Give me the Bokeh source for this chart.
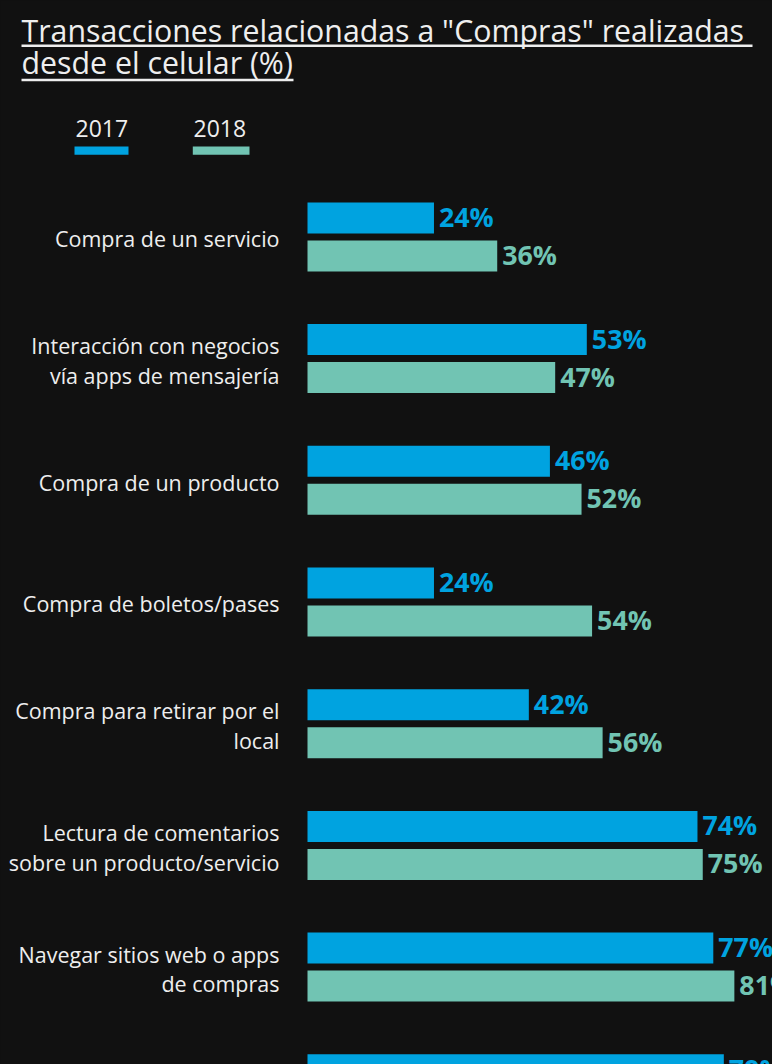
from bokeh.plotting import figure
from bokeh.models import Range1d, ColumnDataSource
from bokeh.core.properties import value
from bokeh.embed import file_html
from bokeh.resources import INLINE

# ---------------- data ----------------
title_lines = ['Transacciones relacionadas a "Compras" realizadas', 'desde el celular (%)']
years = ["2017", "2018"]
categories = [
    "Compra de un servicio",
    "Interacción con negocios\nvía apps de mensajería",
    "Compra de un producto",
    "Compra de boletos/pases",
    "Compra para retirar por el\nlocal",
    "Lectura de comentarios\nsobre un producto/servicio",
    "Navegar sitios web o apps\nde compras",
    "",  # last category: label cut off in the reference
]
values_2017 = [24, 53, 46, 24, 42, 74, 77, 79]
values_2018 = [36, 47, 52, 54, 56, 75, 81, 83]

# ---------------- style ----------------
BG = "#111111"
TXT = "#EEEEEE"
C2017 = "#00A3E0"
C2018 = "#71C4B3"
FONT = value("Open Sans")

W, H = 772, 1064
PX_PER_PCT = 5.27
BAR_X0 = 307.0          # px of value 0
PITCH = 121.7           # px between category centres
FIRST_CENTER = 236.4    # px of first category centre
BAR_H = 31.0
DODGE = 19.0
MID = 0.388             # (ascent - descent)/2 in em, Open Sans


def xpx(cx):
    return (cx - BAR_X0) / PX_PER_PCT


def ypx(cy):
    return (cy - FIRST_CENTER) / PITCH


p = figure(
    width=W, height=H, output_backend="svg", toolbar_location=None,
    x_range=Range1d(xpx(0), xpx(W)),
    y_range=Range1d(ypx(H), ypx(0)),
    min_border=0, background_fill_color=BG, border_fill_color=BG,
    outline_line_color=None, x_axis_location=None, y_axis_location=None,
)
p.grid.visible = False

idx = list(range(len(categories)))
VAL_FS = 26.8
LBL_OFF = 5 / PX_PER_PCT
VAL_UP = 1.5 / PITCH

# bars
src17 = ColumnDataSource(dict(
    y=[i - DODGE / PITCH for i in idx], v=values_2017,
    lbl=[f"{v}%" for v in values_2017],
    ty=[i - DODGE / PITCH - VAL_UP for i in idx],
    lx=[v + LBL_OFF for v in values_2017]))
src18 = ColumnDataSource(dict(
    y=[i + DODGE / PITCH for i in idx], v=values_2018,
    lbl=[f"{v}%" for v in values_2018],
    ty=[i + DODGE / PITCH - VAL_UP for i in idx],
    lx=[v + LBL_OFF for v in values_2018]))

for src, col in ((src17, C2017), (src18, C2018)):
    p.hbar(y="y", left=0, right="v", height=BAR_H / PITCH, source=src,
           fill_color=col, line_color=None)
    p.text(x="lx", y="ty", text="lbl", source=src, text_color=col,
           text_font=FONT, text_font_style="bold", text_font_size=f"{VAL_FS}px",
           text_baseline="middle", text_align="left")

# category labels (split into lines)
CAT_FS = 21.5
LINE_H = 29.4
lx, ly, lt = [], [], []
for i, cat in enumerate(categories):
    if not cat:
        continue
    lines = cat.split("\n")
    n = len(lines)
    for k, line in enumerate(lines):
        base = 10.3 + (k - (n - 1) / 2) * LINE_H
        lx.append(xpx(279))
        ly.append(i + (base - MID * CAT_FS) / PITCH)
        lt.append(line)
p.text(x=lx, y=ly, text=lt, text_color=TXT, text_font=FONT,
       text_font_size=f"{CAT_FS}px", text_baseline="middle", text_align="right")

# title
TIT_FS = 30.3
p.text(x=[xpx(21), xpx(21)],
       y=[ypx(41.7 - MID * TIT_FS), ypx(74.0 - MID * TIT_FS)], text=title_lines,
       text_color=TXT, text_font=FONT, text_font_size=f"{TIT_FS}px",
       text_baseline="middle", text_align="left")
p.segment(x0=[xpx(21), xpx(21)], y0=[ypx(45.2), ypx(79.6)],
          x1=[xpx(752), xpx(293)], y1=[ypx(45.2), ypx(79.6)],
          line_color=TXT, line_width=2.5)

# legend
LEG_FS = 23
p.text(x=[xpx(75), xpx(193)],
       y=[ypx(137.3 - MID * LEG_FS), ypx(137.3 - MID * LEG_FS)], text=years,
       text_color=TXT, text_font=FONT, text_font_size=f"{LEG_FS}px",
       text_baseline="middle", text_align="left")
p.quad(left=[xpx(74), xpx(192.3)], right=[xpx(128), xpx(249)],
       top=[ypx(146), ypx(146)], bottom=[ypx(154.3), ypx(154.3)],
       fill_color=[C2017, C2018], line_color=None)

html = file_html(p, INLINE)
html = html.replace("</head>", "<style>html,body{background:#111111;}</style></head>", 1)
open("out.html", "w").write(html)
